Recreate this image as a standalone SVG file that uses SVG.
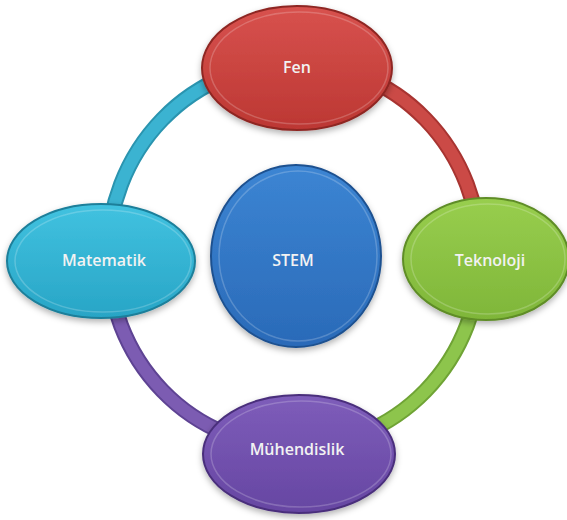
<svg xmlns="http://www.w3.org/2000/svg" width="567" height="520" viewBox="0 0 567 520">
<defs>
<filter id="sh" x="-20%" y="-20%" width="140%" height="150%">
<feDropShadow dx="0" dy="3" stdDeviation="3" flood-color="#000" flood-opacity="0.3"/>
</filter>
<linearGradient id="gRed" x1="0" y1="0" x2="0" y2="1"><stop offset="0" stop-color="#D8524E"/><stop offset="1" stop-color="#BC3733"/></linearGradient>
<linearGradient id="gCyan" x1="0" y1="0" x2="0" y2="1"><stop offset="0" stop-color="#41C2E0"/><stop offset="1" stop-color="#28A5C6"/></linearGradient>
<linearGradient id="gBlue" x1="0" y1="0" x2="0" y2="1"><stop offset="0" stop-color="#3C85D3"/><stop offset="1" stop-color="#2A6AB8"/></linearGradient>
<linearGradient id="gGreen" x1="0" y1="0" x2="0" y2="1"><stop offset="0" stop-color="#98CE4E"/><stop offset="1" stop-color="#7FB639"/></linearGradient>
<linearGradient id="gPurple" x1="0" y1="0" x2="0" y2="1"><stop offset="0" stop-color="#7E5DBA"/><stop offset="1" stop-color="#6646A2"/></linearGradient>
</defs>
<style>
.arcO{fill:none;stroke-width:16;stroke-linecap:butt}
.arcI{fill:none;stroke-width:12;stroke-linecap:butt}
.rim{fill:none;stroke:#ffffff;stroke-opacity:0.2;stroke-width:1.5}
.lbl{font-family:"Open Sans","Noto Sans","Liberation Sans",sans-serif;font-weight:600;font-size:16px;fill:#F2F2F2;text-anchor:middle;dominant-baseline:central}
</style>
<g id="connectors">
<path class="arcO" stroke="#2A94AF" d="M 108 255 A 186 192 0 0 1 294 63"/>
<path class="arcI" stroke="#3BB3D1" d="M 108 255 A 186 192 0 0 1 294 63"/>
<path class="arcO" stroke="#A83431" d="M 294 63 A 186 192 0 0 1 480 255"/>
<path class="arcI" stroke="#CB4A46" d="M 294 63 A 186 192 0 0 1 480 255"/>
<path class="arcO" stroke="#6FA335" d="M 480 255 A 186 192 0 0 1 294 447"/>
<path class="arcI" stroke="#8DC54C" d="M 480 255 A 186 192 0 0 1 294 447"/>
<path class="arcO" stroke="#5E4393" d="M 294 447 A 186 192 0 0 1 108 255"/>
<path class="arcI" stroke="#7C5CB2" d="M 294 447 A 186 192 0 0 1 108 255"/>
</g>
<g id="node-fen">
<ellipse cx="297" cy="68" rx="95" ry="62" fill="url(#gRed)" stroke="#8E2623" stroke-width="2" filter="url(#sh)"/>
<ellipse class="rim" cx="299" cy="68" rx="89" ry="56"/>
<text class="lbl" x="297" y="67">Fen</text>
</g>
<g id="node-matematik">
<ellipse cx="101" cy="261" rx="94" ry="57" fill="url(#gCyan)" stroke="#1D7F9A" stroke-width="2" filter="url(#sh)"/>
<ellipse class="rim" cx="103" cy="261" rx="88" ry="51"/>
<text class="lbl" x="104" y="260">Matematik</text>
</g>
<g id="node-stem">
<ellipse cx="296" cy="256" rx="85" ry="91" fill="url(#gBlue)" stroke="#1F5190" stroke-width="2" filter="url(#sh)"/>
<ellipse class="rim" cx="298" cy="256" rx="79" ry="85"/>
<text class="lbl" x="293" y="260">STEM</text>
</g>
<g id="node-teknoloji">
<ellipse cx="486" cy="259" rx="83" ry="61" fill="url(#gGreen)" stroke="#5F8D28" stroke-width="2" filter="url(#sh)"/>
<ellipse class="rim" cx="488" cy="259" rx="77" ry="55"/>
<text class="lbl" x="490" y="260">Teknoloji</text>
</g>
<g id="node-muhendislik">
<ellipse cx="299" cy="454" rx="96" ry="59" fill="url(#gPurple)" stroke="#4A2F7B" stroke-width="2" filter="url(#sh)"/>
<ellipse class="rim" cx="301" cy="454" rx="90" ry="53"/>
<text class="lbl" x="297" y="449">Mühendislik</text>
</g>
</svg>
